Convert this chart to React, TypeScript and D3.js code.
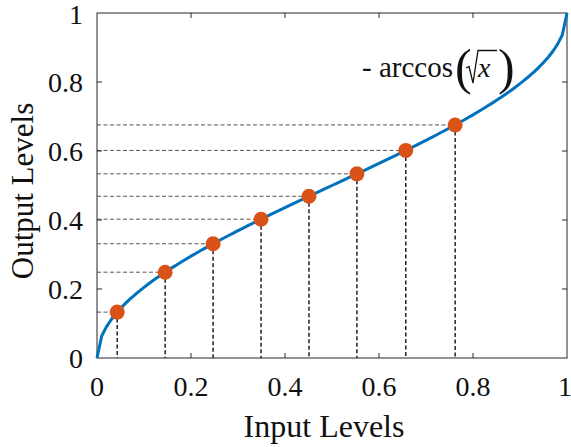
import React from "react";
import * as d3 from "d3";

// Transfer curve: output = 1 - (2/π)·arccos(√x), sampled on a 0.01 grid
const curveInputs: number[] = d3.range(0, 101).map((i) => i / 100);
// Input levels of the highlighted samples
const sampleInputs: number[] = [0.043, 0.145, 0.247, 0.349, 0.451, 0.553, 0.657, 0.762];
const xTicks: number[] = [0, 0.2, 0.4, 0.6, 0.8, 1];
const yTicks: number[] = [0, 0.2, 0.4, 0.6, 0.8, 1];
const xLabel = "Input Levels";
const yLabel = "Output Levels";

const transfer = (x: number) => 1 - (2 / Math.PI) * Math.acos(Math.sqrt(x));

const W = 571;
const H = 447;
const M = { left: 97, right: 4, top: 13, bottom: 89 };
const FONT = "Liberation Serif, DejaVu Serif, serif";

export default function App() {
  const x = d3.scaleLinear().domain([0, 1]).range([M.left, W - M.right]);
  const y = d3.scaleLinear().domain([0, 1]).range([H - M.bottom, M.top]);
  const line = d3
    .line<number>()
    .x((d) => x(d))
    .y((d) => y(transfer(d)));
  const fmt = (v: number) => String(v);
  const x0 = x(0), x1 = x(1), y0 = y(0), y1 = y(1);
  const tick = 5;
  const axisColor = "#262626";
  const txt = { fontFamily: FONT, fill: "#111" } as React.CSSProperties;

  return (
    <svg
      width={W}
      height={H}
      style={{ position: "absolute", left: 0, top: 0, background: "#fff" }}
    >
      {/* guide lines from each sample to the axes */}
      {sampleInputs.map((v, i) => (
        <g key={"g" + i}>
          <line
            x1={x0}
            x2={x(v)}
            y1={y(transfer(v))}
            y2={y(transfer(v))}
            stroke="#555"
            strokeWidth={1}
            strokeDasharray="4,2.5"
          />
          <line
            x1={x(v)}
            x2={x(v)}
            y1={y(transfer(v))}
            y2={y0}
            stroke="#111"
            strokeWidth={1.4}
            strokeDasharray="4,2.5"
          />
        </g>
      ))}

      {/* axes box and inward ticks */}
      <rect x={x0} y={y1} width={x1 - x0} height={y0 - y1} fill="none" stroke={axisColor} strokeWidth={1} />
      {xTicks.slice(1, -1).map((t) => (
        <g key={"xt" + t}>
          <line x1={x(t)} x2={x(t)} y1={y0} y2={y0 - tick} stroke={axisColor} />
          <line x1={x(t)} x2={x(t)} y1={y1} y2={y1 + tick} stroke={axisColor} />
        </g>
      ))}
      {yTicks.slice(1, -1).map((t) => (
        <g key={"yt" + t}>
          <line x1={x0} x2={x0 + tick} y1={y(t)} y2={y(t)} stroke={axisColor} />
          <line x1={x1} x2={x1 - tick} y1={y(t)} y2={y(t)} stroke={axisColor} />
        </g>
      ))}

      {/* curve */}
      <path d={line(curveInputs) ?? ""} fill="none" stroke="#0072BD" strokeWidth={3} strokeLinejoin="round" />

      {/* samples */}
      {sampleInputs.map((v, i) => (
        <circle key={"c" + i} cx={x(v)} cy={y(transfer(v))} r={7.5} fill="#D95319" />
      ))}

      {/* tick labels */}
      {xTicks.map((t) => (
        <text key={"xl" + t} x={Math.min(x(t), W - 6)} y={y0 + 38} textAnchor="middle" fontSize={28} style={txt}>
          {fmt(t)}
        </text>
      ))}
      {yTicks.map((t) => (
        <text key={"yl" + t} x={x0 - 14} y={Math.max(y(t) + 10, 24)} textAnchor="end" fontSize={28} style={txt}>
          {fmt(t)}
        </text>
      ))}

      {/* axis titles */}
      <text x={324} y={437} textAnchor="middle" fontSize={32} style={txt}>
        {xLabel}
      </text>
      <text
        transform="translate(33, 191) rotate(-90)"
        textAnchor="middle"
        fontSize={31}
        style={txt}
      >
        {yLabel}
      </text>

      {/* curve annotation: - arccos(√x) */}
      <g>
        <text x={362} y={77} fontSize={29} style={txt}>
          - arccos
        </text>
        <text x={455} y={84} fontSize={50} style={txt}>
          (
        </text>
        <path
          d="M466,68 L469,66.5 L473,83 L478,50.5 L497,50.5"
          fill="none"
          stroke="#111"
          strokeWidth={1.3}
          strokeLinejoin="miter"
        />
        <text x={478} y={77} fontSize={28} fontStyle="italic" style={txt}>
          x
        </text>
        <text x={498} y={84} fontSize={50} style={txt}>
          )
        </text>
      </g>
    </svg>
  );
}
